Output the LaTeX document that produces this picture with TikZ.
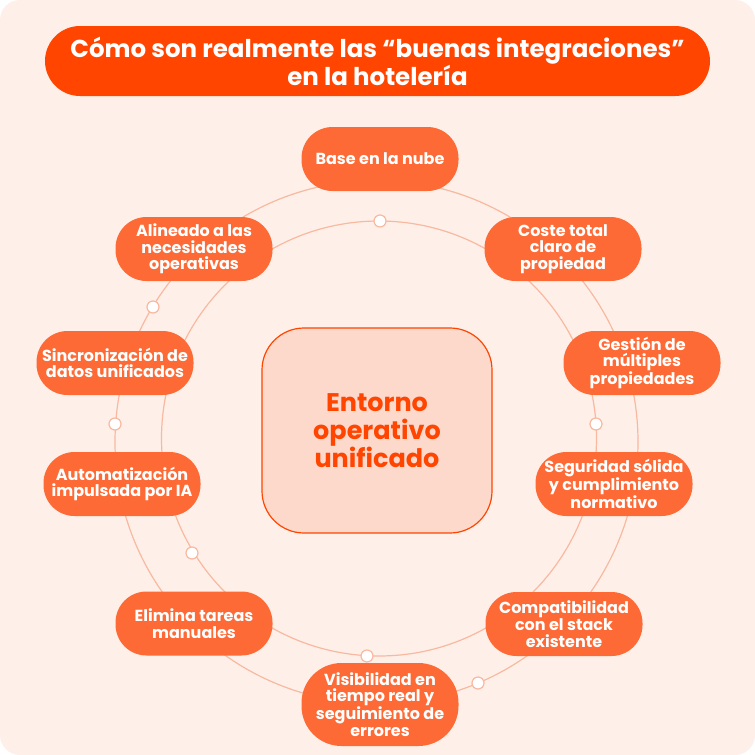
\documentclass[tikz,border=0pt]{standalone}
\usepackage{fontspec}
\setmainfont{Poppins}[BoldFont={Poppins Bold}]
\usetikzlibrary{positioning}
\definecolor{BgPeach}{RGB}{254,240,233}
\definecolor{TitleRed}{RGB}{255,69,0}
\definecolor{HotelOrange}{RGB}{254,106,53}
\definecolor{RingSalmon}{RGB}{249,184,160}
\definecolor{HubFill}{RGB}{253,217,204}
\begin{document}
\begin{tikzpicture}[x=1pt,y=-1pt,
  pill/.style={fill=HotelOrange,text=white,font=\fontsize{16}{16.7}\selectfont\bfseries,align=center,minimum width=157pt,minimum height=64pt,rounded corners=31pt,inner sep=0pt},
  ring/.style={draw=RingSalmon,line width=1.2pt},
  knot/.style={circle,draw=RingSalmon,fill=white,line width=1.2pt,minimum size=12pt,inner sep=0pt}
]
  % page
  \useasboundingbox (0,0) rectangle (755,755);
  \fill[white] (0,0) rectangle (755,755);
  \fill[BgPeach,rounded corners=20pt] (0,0) rectangle (755,755);

  % title
  \node[fill=TitleRed,text=white,font=\fontsize{24.5}{25}\selectfont\bfseries,align=center,minimum width=665pt,minimum height=70pt,rounded corners=35pt,inner sep=0pt] (title) at (377.5,61) {Cómo son realmente las “buenas integraciones”\\en la hotelería};

  % rings
  \draw[ring] (376.5,442) circle[radius=261.5pt];
  \draw[ring] (379,438.5) circle[radius=217.5pt];
  \node[knot] (k1) at (380,221) {};
  \node[knot] (k2) at (596,424) {};
  \node[knot] (k3) at (192,553) {};
  \node[knot] (k4) at (367,656) {};
  \node[knot] (k5) at (115,424) {};
  \node[knot] (k6) at (153,307) {};
  \node[knot] (k7) at (478,683) {};

  % hub
  \node[fill=HubFill,draw=TitleRed,line width=1.2pt,text=TitleRed,font=\fontsize{25.5}{28}\selectfont\bfseries,align=center,minimum width=230pt,minimum height=205pt,rounded corners=42pt] (hub) at (377,430.5) {Entorno\\operativo\\unificado};

  % ring nodes
  \node[pill] (nube) at (380,159) {Base en la nube};
  \node[pill] (coste) at (563,249) {Coste total\\claro de\\propiedad};
  \node[pill] (multi) at (642,363) {Gestión de\\múltiples\\propiedades};
  \node[pill] (segur) at (614,484) {Seguridad sólida\\y cumplimiento\\normativo};
  \node[pill] (compat) at (564,624) {Compatibilidad\\con el stack\\existente};
  \node[pill,minimum height=83pt,rounded corners=40pt] (visib) at (380,704.5) {Visibilidad en\\tiempo real y\\seguimiento de\\errores};
  \node[pill] (elimina) at (194,623.5) {Elimina tareas\\manuales};
  \node[pill] (autom) at (122,484) {Automatización\\impulsada por IA};
  \node[pill] (sincro) at (115,363) {Sincronización de\\datos unificados};
  \node[pill] (alinea) at (194,249) {Alineado a las\\necesidades\\operativas};
\end{tikzpicture}
\end{document}
